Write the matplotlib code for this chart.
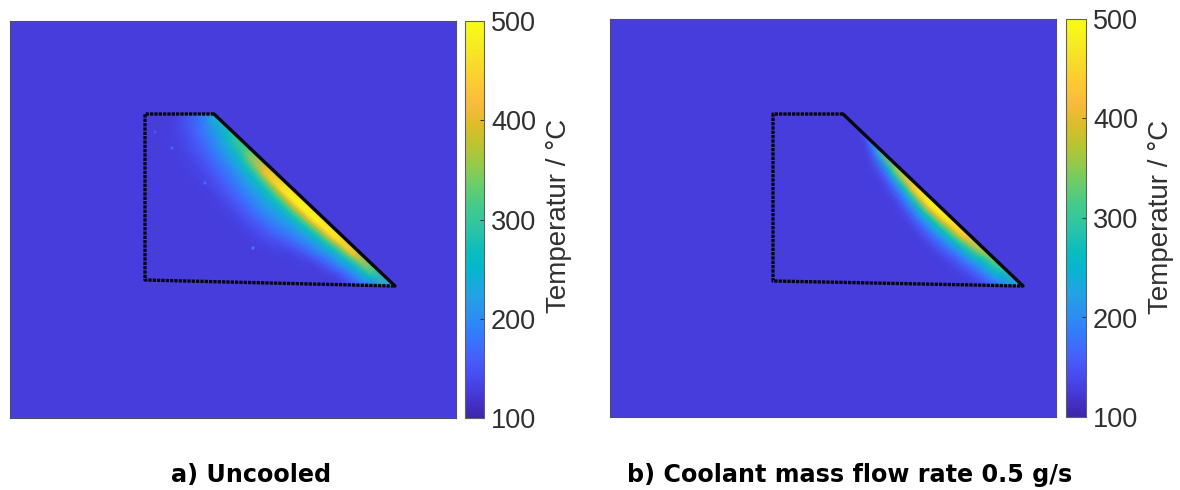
import numpy as np
import matplotlib
matplotlib.use("Agg")
import matplotlib.pyplot as plt
from matplotlib.colors import LinearSegmentedColormap, Normalize
from matplotlib.cm import ScalarMappable
from matplotlib.patches import Polygon

W, H = 1180, 490
VMIN, VMAX = 100, 500
BACKGROUND_TEMP = 127

# Colour bar
TICKS = [100, 200, 300, 400, 500]
CBAR_LABEL = "Temperatur / °C"
CAPTIONS = ["a) Uncooled", "b) Coolant mass flow rate 0.5 g/s"]

# Component outlines (reference pixel frame)
OUTLINE_A_X = [145, 214, 395, 145]
OUTLINE_A_Y = [114, 114, 286, 280]
OUTLINE_B_X = [773, 843, 1023, 773]
OUTLINE_B_Y = [114, 114, 286, 281]

# Temperature read along the slanted edge (stations) and inwards from it (depths)
DEPTHS = [0, 3, 6, 9, 12, 16, 20, 25, 30, 36, 42, 50, 60, 70, 85]

STATIONS_A = [-0.1, 0.0, 0.1, 0.2, 0.3, 0.4, 0.5, 0.6, 0.7, 0.8, 0.9, 1.0]
TEMPS_A = [
    [150, 150, 150, 150, 148, 145, 140, 135, 133, 130, 128, 127, 127, 127, 127],
    [230, 225, 215, 205, 195, 185, 175, 165, 155, 145, 138, 132, 128, 127, 127],
    [280, 275, 265, 255, 240, 220, 205, 190, 175, 160, 148, 136, 130, 127, 127],
    [300, 320, 320, 300, 280, 255, 235, 210, 190, 175, 160, 143, 130, 127, 127],
    [350, 400, 410, 390, 340, 290, 260, 230, 210, 190, 170, 150, 133, 127, 127],
    [390, 450, 470, 450, 380, 320, 275, 240, 220, 200, 180, 155, 136, 127, 127],
    [410, 480, 495, 470, 400, 330, 280, 240, 215, 195, 175, 150, 133, 127, 127],
    [410, 470, 490, 450, 380, 310, 265, 225, 200, 175, 150, 132, 127, 127, 127],
    [400, 460, 470, 410, 340, 280, 240, 205, 180, 150, 130, 127, 127, 127, 127],
    [350, 400, 400, 340, 290, 245, 215, 180, 150, 130, 127, 127, 127, 127, 127],
    [270, 300, 300, 280, 250, 215, 190, 160, 140, 128, 127, 127, 127, 127, 127],
    [200, 205, 200, 190, 175, 160, 145, 135, 127, 127, 127, 127, 127, 127, 127],
]

STATIONS_B = [0.1, 0.15, 0.2, 0.3, 0.4, 0.5, 0.6, 0.7, 0.8, 0.9, 1.0]
TEMPS_B = [
    [127, 127, 127, 127, 127, 127, 127, 127, 127, 127, 127, 127, 127, 127, 127],
    [170, 160, 135, 127, 127, 127, 127, 127, 127, 127, 127, 127, 127, 127, 127],
    [230, 220, 190, 160, 140, 130, 127, 127, 127, 127, 127, 127, 127, 127, 127],
    [320, 350, 310, 255, 205, 165, 142, 130, 127, 127, 127, 127, 127, 127, 127],
    [380, 440, 410, 340, 275, 215, 175, 145, 130, 127, 127, 127, 127, 127, 127],
    [420, 490, 480, 410, 340, 270, 220, 175, 145, 130, 127, 127, 127, 127, 127],
    [410, 475, 455, 390, 330, 270, 225, 185, 155, 135, 127, 127, 127, 127, 127],
    [380, 430, 410, 350, 300, 250, 210, 175, 150, 133, 127, 127, 127, 127, 127],
    [330, 350, 320, 280, 250, 220, 190, 160, 140, 130, 127, 127, 127, 127, 127],
    [270, 280, 265, 245, 225, 195, 170, 145, 130, 127, 127, 127, 127, 127, 127],
    [200, 200, 195, 185, 170, 150, 135, 127, 127, 127, 127, 127, 127, 127, 127],
]

# Isolated hot specks in panel a
SPECK_X = [253, 172, 155, 227, 205]
SPECK_Y = [248, 148, 132, 168, 183]
SPECK_T = [190, 165, 150, 190, 170]

PARULA = [
    (0.2422, 0.1504, 0.6603), (0.2706, 0.2147, 0.8364), (0.2813, 0.3006, 0.9414),
    (0.2699, 0.3892, 0.9906), (0.1963, 0.4847, 0.9892), (0.1687, 0.5703, 0.9359),
    (0.1248, 0.6459, 0.8883), (0.0297, 0.7082, 0.8163), (0.0433, 0.7411, 0.7394),
    (0.1717, 0.7670, 0.6554), (0.2470, 0.7918, 0.5567), (0.3909, 0.8029, 0.4354),
    (0.5616, 0.7942, 0.3045), (0.7242, 0.7698, 0.1910), (0.8634, 0.7406, 0.1596),
    (0.9728, 0.7298, 0.2394), (0.9952, 0.7893, 0.2028), (0.9676, 0.8639, 0.1643),
    (0.9628, 0.9373, 0.1265), (0.9769, 0.9839, 0.0805),
]
cmap = LinearSegmentedColormap.from_list("parula", PARULA, N=256)
norm = Normalize(VMIN, VMAX)

plt.rcParams["font.family"] = ["Liberation Sans", "DejaVu Sans"]
fig = plt.figure(figsize=(W / 100, H / 100), dpi=100, facecolor="white")


def px_axes(left, top, right, bottom):
    return fig.add_axes([left / W, 1 - bottom / H, (right - left) / W, (bottom - top) / H])


def panel(box, cbox, ox, oy, stations, temps, caption, cap_x, cap_y, label_y):
    ax = px_axes(*box)
    ax.set_xlim(box[0], box[2])
    ax.set_ylim(box[3], box[1])
    ax.set_xticks([])
    ax.set_yticks([])
    ax.set_facecolor(cmap(norm(BACKGROUND_TEMP)))
    for s in ax.spines.values():
        s.set_color("#505060")
        s.set_linewidth(0.8)

    # mesh in edge coordinates
    p0 = np.array([ox[1], oy[1]], float)
    p1 = np.array([ox[2], oy[2]], float)
    along = p1 - p0
    normal = np.array([-along[1], along[0]]) / np.hypot(*along)
    tt, dd = np.meshgrid(stations, DEPTHS, indexing="ij")
    X = p0[0] + tt * along[0] + dd * normal[0]
    Y = p0[1] + tt * along[1] + dd * normal[1]
    mesh = ax.pcolormesh(X, Y, np.array(temps, float), shading="gouraud",
                         cmap=cmap, norm=norm, zorder=2)
    clip = Polygon(np.column_stack([ox, oy]), closed=True, transform=ax.transData,
                   fc="none", ec="none")
    ax.add_patch(clip)
    mesh.set_clip_path(clip)

    # outline: solid on the slanted edge, dotted on the others
    ax.plot(ox[1:3], oy[1:3], color="#08080f", lw=2.4, zorder=4, solid_capstyle="round")
    ax.plot([ox[1], ox[0], ox[3], ox[2]], [oy[1], oy[0], oy[3], oy[2]], color="#08080f",
            lw=2.4, ls=(0, (1.0, 0.3)), zorder=4)

    cax = px_axes(*cbox)
    cb = fig.colorbar(ScalarMappable(norm=norm, cmap=cmap), cax=cax, ticks=TICKS)
    cb.outline.set_edgecolor("#606060")
    cb.outline.set_linewidth(0.8)
    cb.ax.tick_params(direction="in", length=3, width=0.7, color="#303030",
                      labelsize=19.5, labelcolor="#303030", pad=5)
    cb.set_label(CBAR_LABEL, fontsize=20, color="#303030", labelpad=7, y=label_y)

    fig.text(cap_x / W, 1 - cap_y / H, caption, ha="center", va="center",
             fontsize=17.2, fontweight="bold", color="black",
             family=["DejaVu Sans"])
    return ax


ax_a = panel((10, 21, 456, 418), (465, 21, 484, 418), OUTLINE_A_X, OUTLINE_A_Y,
             STATIONS_A, TEMPS_A, CAPTIONS[0], 251, 475, 0.508)
panel((610, 19, 1056, 417), (1066, 19, 1086, 417), OUTLINE_B_X, OUTLINE_B_Y,
      STATIONS_B, TEMPS_B, CAPTIONS[1], 850, 475, 0.502)

ax_a.scatter(SPECK_X, SPECK_Y, c=SPECK_T, cmap=cmap, norm=norm, s=5, lw=0, zorder=3)

fig.savefig("out.png", dpi=100, facecolor="white")
